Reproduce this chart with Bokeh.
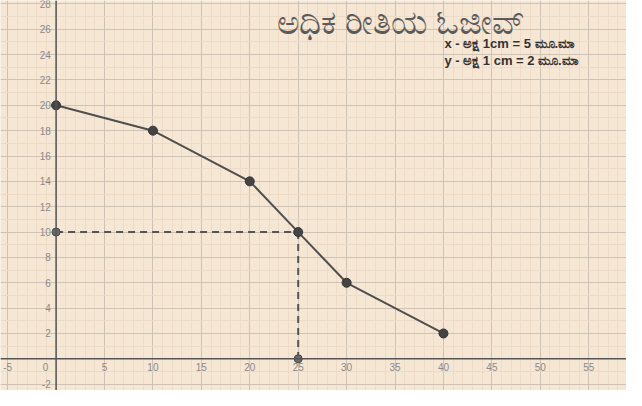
from bokeh.plotting import figure
from bokeh.models import Range1d, SingleIntervalTicker, Span
from bokeh.core.properties import value
from bokeh.embed import file_html
from bokeh.resources import INLINE

# data
class_limits = [0, 10, 20, 25, 30, 40]
cum_freq = [20, 18, 14, 10, 6, 2]
median_x = 25
median_y = 10
x_tick_vals = [-5, 5, 10, 15, 20, 25, 30, 35, 40, 45, 50, 55]
y_tick_vals = [-2, 2, 4, 6, 8, 10, 12, 14, 16, 18, 20, 22, 24, 26, 28]
title_text = "ಅಧಿಕ ರೀತಿಯ ಓಜೀವ್"
scale_notes = ["x - ಅಕ್ಷ 1cm = 5 ಮೂ.ಮಾ", "y - ಅಕ್ಷ 1 cm = 2 ಮೂ.ಮಾ"]

BG = "#F6E6D4"
MAJOR = "#CFC1B3"
MINOR = "#EDDBC8"
AX = "#555555"
LBL = "#8a8a8a"

p = figure(width=626, height=390, output_backend="svg", toolbar_location=None,
           x_range=Range1d(-5.74, 58.9), y_range=Range1d(-2.5, 28.27),
           min_border=0)
p.outline_line_color = None
p.background_fill_color = BG
p.border_fill_color = BG
p.xaxis.visible = False
p.yaxis.visible = False

p.xgrid.ticker = SingleIntervalTicker(interval=5, num_minor_ticks=5)
p.ygrid.ticker = SingleIntervalTicker(interval=2, num_minor_ticks=2)
for g in (p.xgrid, p.ygrid):
    g.grid_line_color = MAJOR
    g.grid_line_width = 1
    g.minor_grid_line_color = MINOR
    g.minor_grid_line_width = 1

p.add_layout(Span(location=0, dimension="height", line_color=AX, line_width=1.5))
p.add_layout(Span(location=0, dimension="width", line_color=AX, line_width=1.5))

# tick labels
p.text(x=x_tick_vals, y=[-0.65] * len(x_tick_vals), text=[str(v) for v in x_tick_vals],
       text_align="center", text_baseline="middle", text_font=value("Liberation Sans"),
       text_font_size="10px", text_color=LBL)
p.text(x=[-0.55] * len(y_tick_vals), y=y_tick_vals, text=[str(v) for v in y_tick_vals],
       text_align="right", text_baseline="middle", text_font=value("Liberation Sans"),
       text_font_size="10px", text_color=LBL)
p.text(x=[-1.1], y=[-0.65], text=["0"], text_align="center", text_baseline="middle",
       text_font=value("Liberation Sans"), text_font_size="10px", text_color=LBL)

# dashed median lines
p.line(x=[0, median_x], y=[median_y, median_y], line_color="#555555", line_width=2, line_dash="7 5")
p.line(x=[median_x, median_x], y=[median_y, 0], line_color="#555555", line_width=2, line_dash="7 5")
p.scatter(x=[0, median_x], y=[median_y, 0], size=8, fill_color="#6b6b6b", line_color="#444444")

# ogive
p.line(x=class_limits, y=cum_freq, line_color="#4f4f4f", line_width=2)
p.scatter(x=class_limits, y=cum_freq, size=9, fill_color="#444444", line_color="#333333")

# title and notes
p.text(x=[35.6], y=[26.65], text=[title_text], text_align="center", text_baseline="middle",
       text_font=value("Noto Sans"), text_font_size="34px", text_color="#5a5a5a")
p.text(x=[40.1, 40.1], y=[24.85, 23.5], text=scale_notes, text_align="left",
       text_baseline="middle", text_font=value("Liberation Sans"), text_font_size="13px",
       text_font_style="bold", text_color="#333333")

open("out.html", "w").write(file_html(p, INLINE))
